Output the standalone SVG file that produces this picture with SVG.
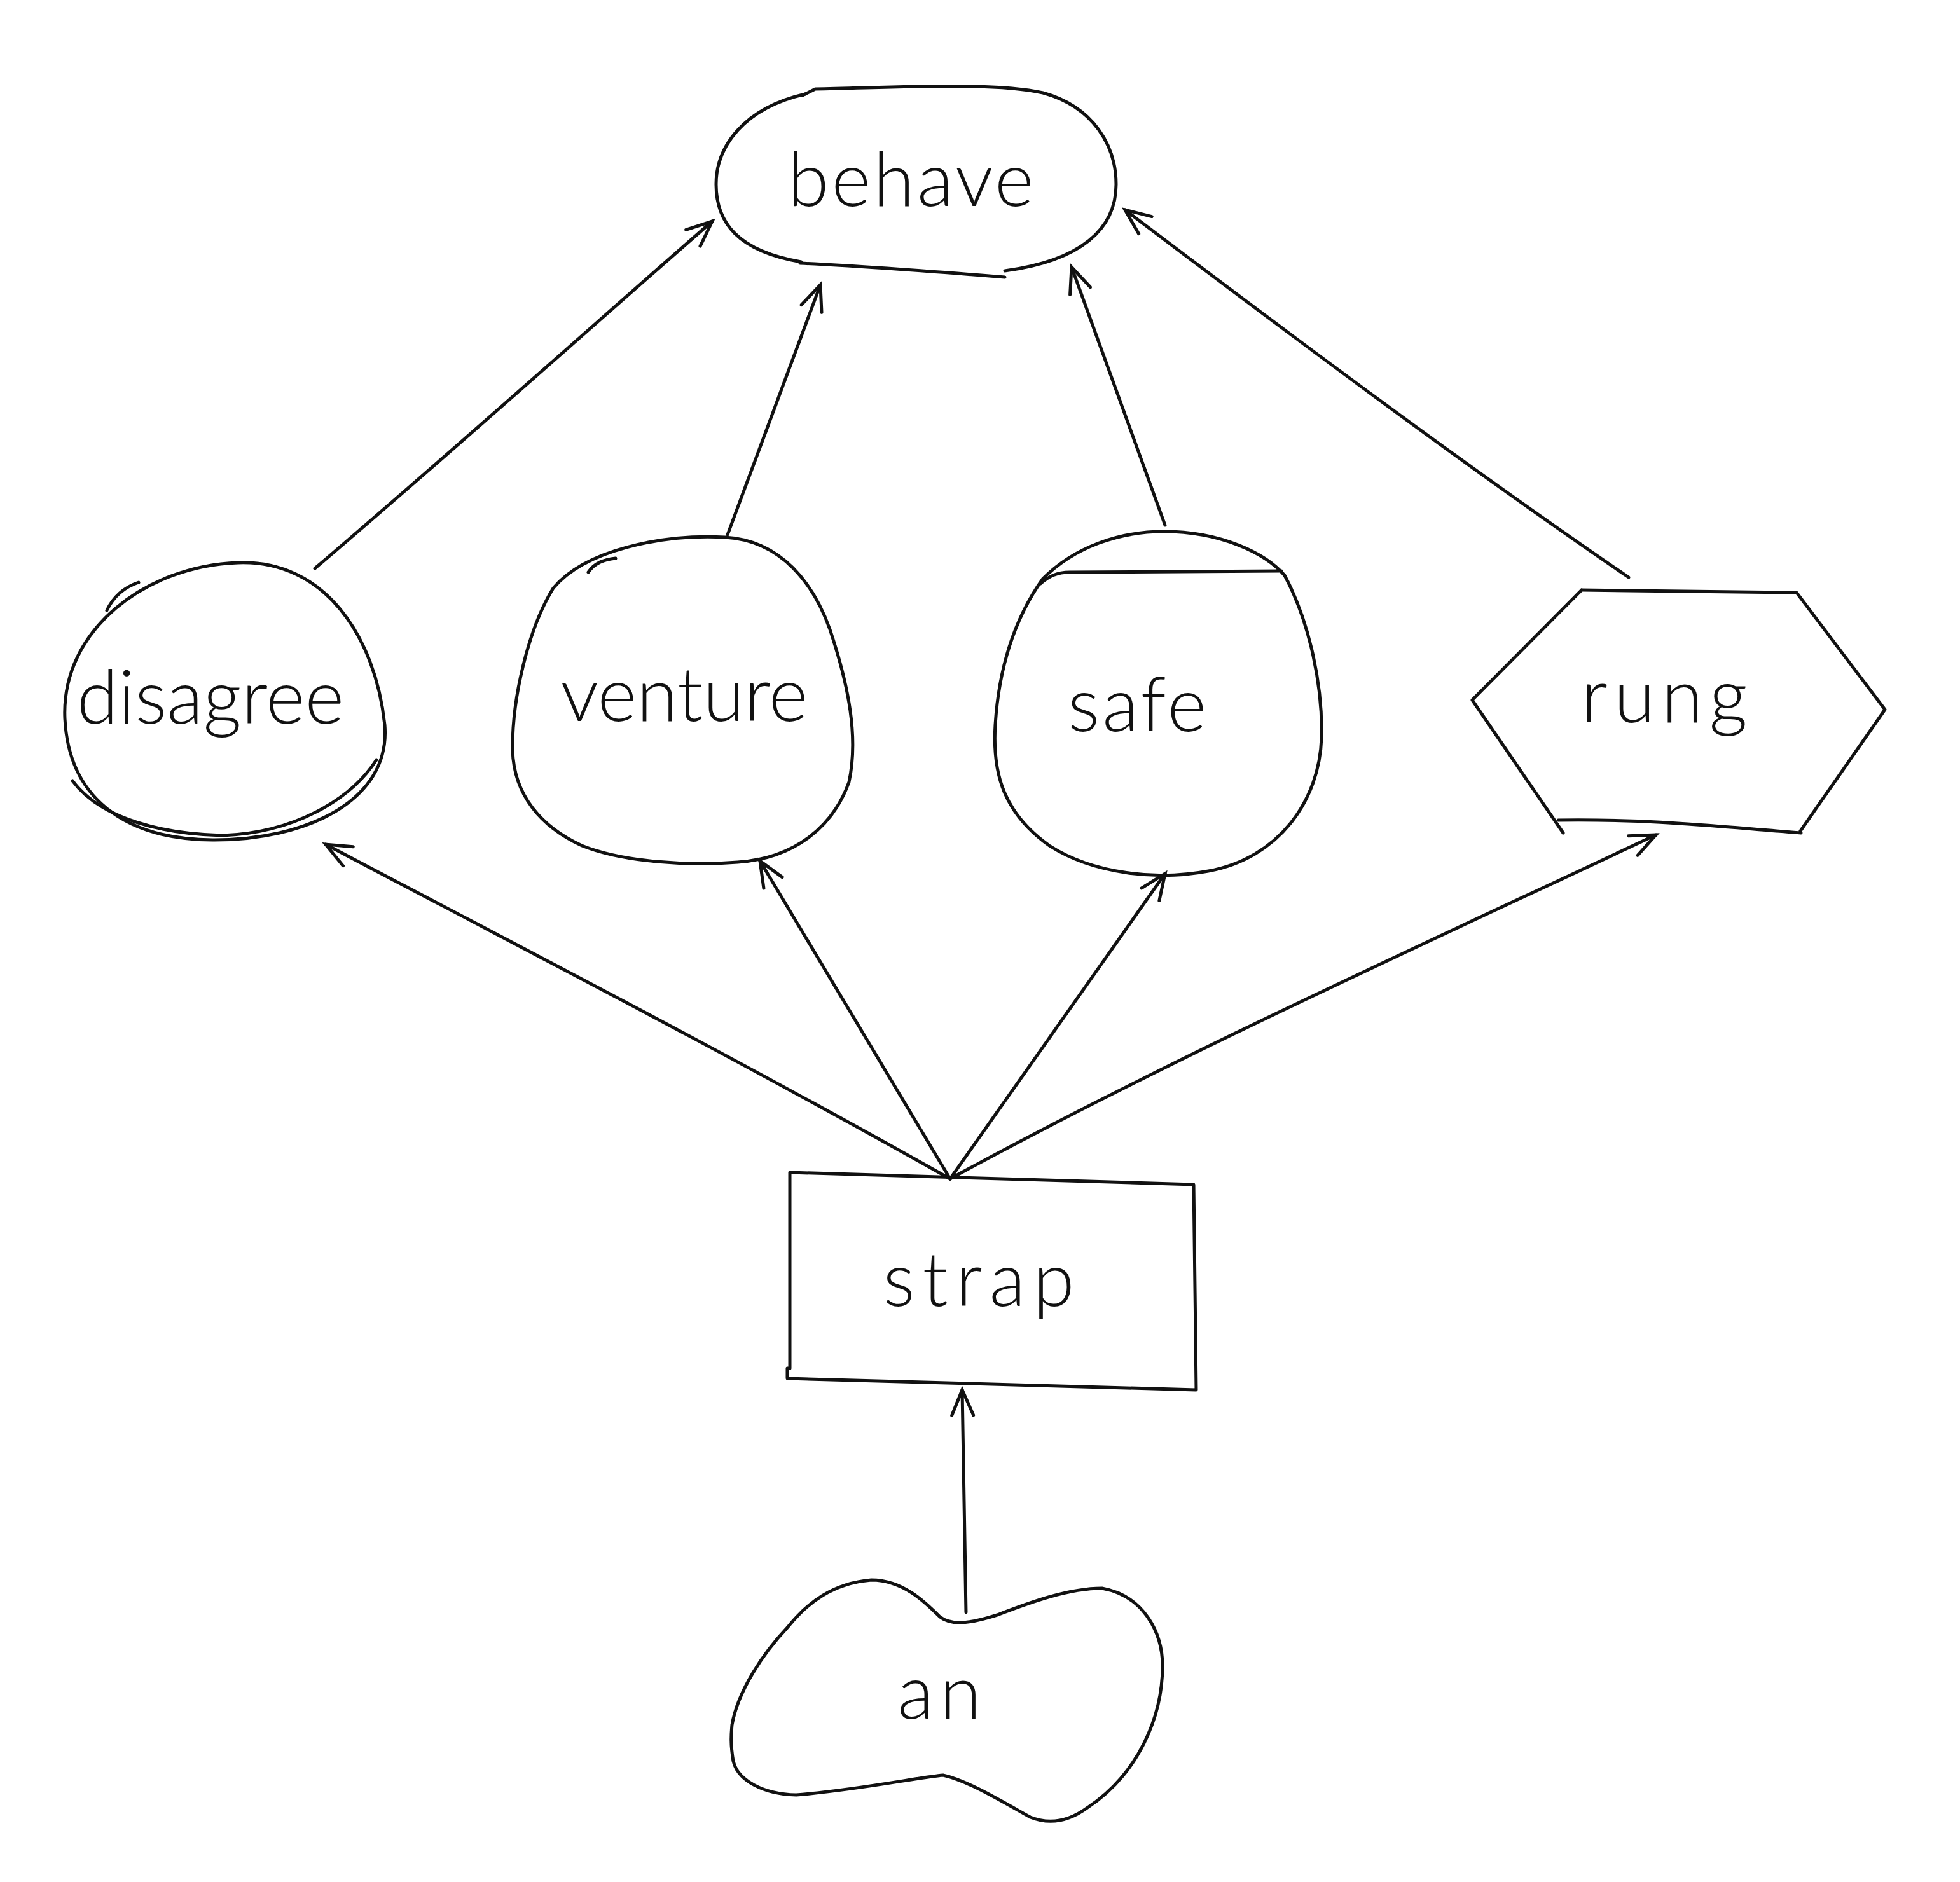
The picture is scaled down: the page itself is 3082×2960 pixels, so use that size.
<svg xmlns="http://www.w3.org/2000/svg" width="3082" height="2960" viewBox="0 0 3082 2960">
<style>
.s{fill:none;stroke:#111;stroke-width:5;stroke-linecap:round;stroke-linejoin:round}
.t{font-family:Lato,"Liberation Sans",sans-serif;font-weight:300;font-size:118px;fill:#111;text-anchor:middle}
</style>
<defs>
<marker id="ah" markerUnits="userSpaceOnUse" markerWidth="60" markerHeight="60" viewBox="-50 -30 60 60" refX="0" refY="0" orient="auto">
<path d="M -40,-17 L 0,0 L -40,17" fill="none" stroke="#111" stroke-width="5" stroke-linecap="round"/>
</marker>
</defs>
<rect width="3082" height="2960" fill="#fff"/>
<g id="connectors">
<path class="s" d="M 495,894 C 700,720 900,540 1120,348" marker-end="url(#ah)"/>
<path class="s" d="M 1144,841 L 1290,448" marker-end="url(#ah)"/>
<path class="s" d="M 1832,826 L 1685,420" marker-end="url(#ah)"/>
<path class="s" d="M 2561,908 C 2300,730 2020,520 1769,330" marker-end="url(#ah)"/>
<path class="s" d="M 1494,1854 C 1150,1660 800,1480 512,1328" marker-end="url(#ah)"/>
<path class="s" d="M 1494,1854 L 1195,1354" marker-end="url(#ah)"/>
<path class="s" d="M 1494,1854 L 1832,1374" marker-end="url(#ah)"/>
<path class="s" d="M 1494,1854 C 1850,1660 2250,1480 2604,1313" marker-end="url(#ah)"/>
<path class="s" d="M 1519,2536 L 1513,2186" marker-end="url(#ah)"/>
</g>
<g id="behave">
<path class="s" d="M 1262,150 L 1282,140 C 1400,138 1560,128 1640,146 C 1720,168 1755,230 1755,290 C 1755,360 1700,410 1580,426"/>
<path class="s" d="M 1266,148 C 1170,170 1126,230 1126,290 C 1126,350 1160,395 1260,412"/>
<path class="s" d="M 1258,414 C 1350,418 1480,428 1580,436"/>
<text class="t" x="1434" y="324" font-size="124" letter-spacing="4">behave</text>
</g>
<g id="disagree">
<path class="s" d="M 374,885 C 510,880 590,1000 605,1140 C 615,1260 480,1322 334,1321 C 190,1320 108,1250 102,1130 C 96,990 230,890 374,885 Z"/>
<path class="s" d="M 114,1228 C 160,1290 260,1312 350,1314 C 460,1310 550,1260 592,1195"/>
<path class="s" d="M 168,960 C 180,935 200,922 218,916"/>
<text class="t" x="331" y="1138">disagree</text>
</g>
<g id="venture">
<path class="s" d="M 1140,845 C 1230,850 1280,920 1305,990 C 1335,1080 1350,1160 1335,1230 C 1310,1300 1250,1350 1160,1356 C 1080,1362 980,1356 915,1330 C 850,1300 808,1250 806,1180 C 805,1100 830,990 870,925 C 920,865 1040,840 1140,845 Z"/>
<path class="s" d="M 925,900 C 935,885 950,880 968,878"/>
<text class="t" x="1076" y="1134">venture</text>
</g>
<g id="safe">
<path class="s" d="M 1830,836 C 1920,836 1990,870 2020,905 C 2060,980 2080,1080 2078,1160 C 2075,1260 2010,1350 1900,1370 C 1820,1385 1720,1375 1650,1330 C 1580,1280 1560,1220 1565,1140 C 1570,1060 1590,980 1640,910 C 1690,860 1760,836 1830,836 Z"/>
<path class="s" d="M 1636,918 C 1650,906 1662,900 1682,900 L 2015,898"/>
<text class="t" x="1790" y="1150" letter-spacing="4">safe</text>
</g>
<g id="rung">
<path class="s" d="M 2487,928 L 2825,932 L 2964,1116 L 2831,1307"/>
<path class="s" d="M 2487,928 L 2315,1101 L 2458,1310"/>
<path class="s" d="M 2450,1290 C 2600,1288 2700,1300 2832,1310"/>
<text class="t" x="2622" y="1136" font-size="126" letter-spacing="10">rung</text>
</g>
<g id="strap">
<path class="s" d="M 1242,1844 L 1877,1863 L 1881,2186 L 1238,2168 L 1238,2152 L 1242,2152 Z"/>
<text class="t" x="1545" y="2054" font-size="126" letter-spacing="12">strap</text>
</g>
<g id="an">
<path class="s" d="M 1151,2713 C 1160,2660 1200,2600 1238,2560 C 1270,2520 1310,2490 1370,2485 C 1420,2485 1455,2520 1478,2543 C 1495,2556 1520,2555 1568,2540 C 1620,2520 1680,2498 1733,2498 C 1800,2510 1828,2570 1828,2620 C 1828,2700 1790,2790 1710,2843 C 1680,2865 1650,2870 1620,2858 C 1570,2830 1520,2800 1483,2792 C 1440,2796 1350,2815 1252,2823 C 1200,2822 1160,2800 1153,2770 C 1148,2740 1150,2725 1151,2713 Z"/>
<text class="t" x="1482" y="2703" font-size="126" letter-spacing="10">an</text>
</g>
</svg>
